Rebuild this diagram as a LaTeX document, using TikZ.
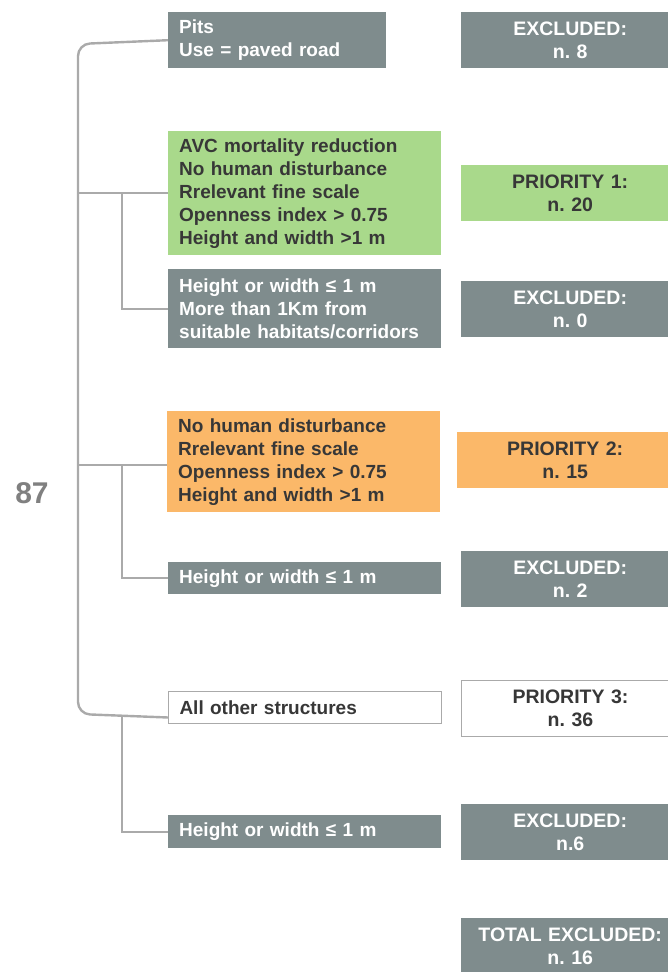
\documentclass[tikz,border=0pt]{standalone}
\usepackage{fontspec}
\setmainfont{Liberation Sans}
\usetikzlibrary{positioning}

\definecolor{boxgray}{RGB}{127,140,141}
\definecolor{boxgreen}{RGB}{169,217,139}
\definecolor{boxorange}{RGB}{251,184,105}
\definecolor{linegray}{RGB}{170,170,170}
\definecolor{textdark}{RGB}{55,55,55}
\frenchspacing

\begin{document}
\begin{tikzpicture}[x=1pt, y=-1pt,
    crit/.style={rectangle, anchor=north west, minimum width=273pt,
                 text width=251pt, inner xsep=11pt, inner ysep=0pt, align=left,
                 font=\bfseries\fontsize{19}{23}\selectfont},
    outcome/.style={rectangle, anchor=north west, minimum width=218pt,
                    minimum height=56pt, text width=218pt, inner sep=0pt,
                    align=center, font=\bfseries\fontsize{19.5}{23}\selectfont},
    spine/.style={draw=linegray, line width=2.4pt, rounded corners=12pt},
    branch/.style={draw=linegray, line width=1.8pt}
]
\useasboundingbox (0,0) rectangle (667,972);

% Criteria
\node[crit, fill=boxgray, text=white, minimum width=218pt, text width=196pt,
      minimum height=56pt] (pits) at (168,12) {Pits\\Use = paved road};
\node[crit, fill=boxgreen, text=textdark, minimum height=124pt] (green) at (168,131)
    {AVC mortality reduction\\No human disturbance\\Rrelevant fine scale\\
     Openness index > 0.75\\Height and width >1 m};
\node[crit, fill=boxgray, text=white, minimum height=79pt] (far) at (168,269)
    {Height or width ≤ 1 m\\More than 1Km from\\suitable habitats/corridors};
\node[crit, fill=boxorange, text=textdark, minimum height=101pt] (orange) at (167,411)
    {No human disturbance\\Rrelevant fine scale\\Openness index > 0.75\\
     Height and width >1 m};
\node[crit, fill=boxgray, text=white, minimum height=32pt] (small2) at (168,562)
    {Height or width ≤ 1 m};
\node[crit, draw=linegray, line width=1pt, fill=white, text=textdark,
      minimum height=32pt] (other) at (168,691) {All other structures};
\node[crit, fill=boxgray, text=white, minimum height=33pt] (small3) at (168,815)
    {Height or width ≤ 1 m};

% Outcomes
\node[outcome, fill=boxgray, text=white] (ex1) at (461,12) {EXCLUDED:\\n. 8};
\node[outcome, fill=boxgreen, text=textdark] (p1) at (461,165) {PRIORITY 1:\\n. 20};
\node[outcome, fill=boxgray, text=white] (ex2) at (461,281) {EXCLUDED:\\n. 0};
\node[outcome, fill=boxorange, text=textdark, minimum width=216pt, text width=216pt]
    (p2) at (457,432) {PRIORITY 2:\\n. 15};
\node[outcome, fill=boxgray, text=white] (ex3) at (461,551) {EXCLUDED:\\n. 2};
\node[outcome, draw=linegray, line width=1pt, fill=white, text=textdark]
    (p3) at (461,680) {PRIORITY 3:\\n. 36};
\node[outcome, fill=boxgray, text=white] (ex4) at (461,804) {EXCLUDED:\\n.6};
\node[outcome, fill=boxgray, text=white] (extot) at (461,918) {TOTAL EXCLUDED:\\n. 16};

% Total
\node[font=\bfseries\fontsize{30}{34}\selectfont, text=gray] (total) at (32,493) {87};

% Bracket
\coordinate (top) at (78,44);
\coordinate (bottom) at (78,714);
\coordinate (spinex) at (78,0);
\coordinate (subx) at (122,0);
\draw[spine] (pits.west) -- (top) -- (bottom) -- ([yshift=-10pt]other.west);
\draw[branch] (green.west -| spinex) -- (green.west);
\draw[branch] (green.west -| subx) |- (far.west);
\draw[branch] ([yshift=-3pt]orange.west -| spinex) -- ([yshift=-3pt]orange.west);
\draw[branch] ([yshift=-3pt]orange.west -| subx) |- (small2.west);
\draw[branch] ([yshift=-9pt]other.west -| subx) |- (small3.west);

\end{tikzpicture}
\end{document}
